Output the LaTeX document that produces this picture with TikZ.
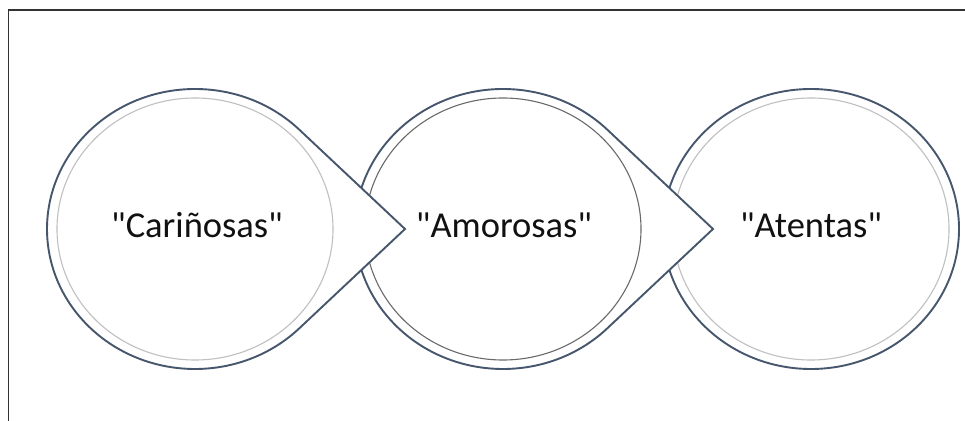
\documentclass[tikz,border=0pt]{standalone}
\usepackage{fontspec}
\setmainfont{Carlito}
\newfontfamily\lblfont{Carlito}[Ligatures=ResetAll]
\usetikzlibrary{calc}
\definecolor{edgeblue}{HTML}{46566C}
\definecolor{lightring}{HTML}{C0C0C0}
\definecolor{darkring}{HTML}{6A6A6A}
\definecolor{framegray}{HTML}{333333}
\definecolor{textcol}{HTML}{111111}
\tikzset{
  outershape/.style={draw=edgeblue, fill=white, line width=1.9pt, line join=miter},
  innerring/.style={draw=lightring, line width=1.1pt},
  innerringdark/.style={draw=darkring, line width=1.1pt},
  framebox/.style={draw=framegray, line width=1.6pt},
  lbl/.style={text=textcol, font=\lblfont\fontsize{36.5}{40}\selectfont, inner sep=0pt, anchor=base}
}
\begin{document}
\begin{tikzpicture}[x=1pt,y=1pt]
\useasboundingbox (0,0) rectangle (965,420);
\fill[white] (0,0) rectangle (965,420);
\draw[framebox] (8.5,-20) rectangle (990,410);
% element 3 (bottom of the stack)
\coordinate (c3) at (811,191);
\draw[outershape] (c3) ellipse[x radius=148, y radius=140];
\draw[innerring] (c3) ellipse[x radius=138, y radius=131];
% element 2
\coordinate (c2) at (503,191);
\coordinate (tip2) at (713,191);
\draw[outershape] (tip2) -- ($(c2)+(104.30,99.32)$)
  arc[start angle=45.19, end angle=314.81, x radius=148, y radius=140] -- cycle;
\draw[innerringdark] (c2) ellipse[x radius=138, y radius=131];
% element 1 (top of the stack)
\coordinate (c1) at (195,191);
\coordinate (tip1) at (405,191);
\draw[outershape] (tip1) -- ($(c1)+(104.30,99.32)$)
  arc[start angle=45.19, end angle=314.81, x radius=148, y radius=140] -- cycle;
\draw[innerring] (c1) ellipse[x radius=138, y radius=131];
% labels
\node[lbl] (t1) at (197,182) {"Cariñosas"};
\node[lbl] (t2) at (504,182) {"Amorosas"};
\node[lbl] (t3) at (811,182) {"Atentas"};
\end{tikzpicture}
\end{document}
